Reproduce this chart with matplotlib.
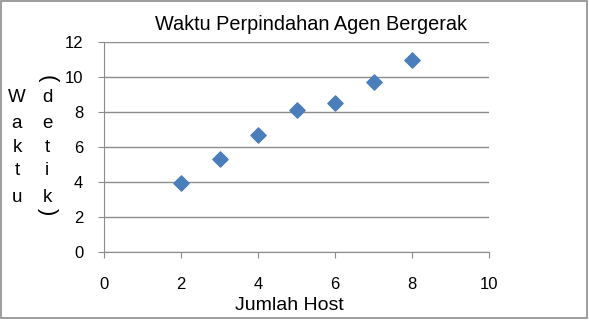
import matplotlib
matplotlib.use("Agg")
import matplotlib.pyplot as plt
from matplotlib.patches import Rectangle

plt.rcParams['font.family'] = ['Liberation Sans', 'DejaVu Sans']

jumlah_host = [2, 3, 4, 5, 6, 7, 8]
waktu_detik = [3.95, 5.3, 6.7, 8.1, 8.5, 9.7, 10.95]
x_ticks = [0, 2, 4, 6, 8, 10]
y_ticks = [0, 2, 4, 6, 8, 10, 12]

W, H = 589, 322
fig = plt.figure(figsize=(W / 100, H / 100), dpi=100)
ax = fig.add_axes([104 / W, 1 - 252 / H, (489 - 104) / W, (252 - 42) / H])

ax.scatter(jumlah_host, waktu_detik, marker='D', s=60, color='#4a7ebb',
           edgecolors='#4a7ebb', zorder=3)
ax.set_xlim(0, 10)
ax.set_ylim(0, 12)
ax.set_xticks(x_ticks)
ax.set_yticks(y_ticks)
ax.yaxis.grid(True, color='#8c8c8c', linewidth=1.0)
ax.set_axisbelow(True)
for s in ['top', 'right']:
    ax.spines[s].set_visible(False)
for s in ['left', 'bottom']:
    ax.spines[s].set_color('#8c8c8c')
ax.tick_params(axis='both', colors='#8c8c8c', labelcolor='black', labelsize=12,
               length=4, direction='out')
ax.tick_params(axis='x', pad=14)
ax.tick_params(axis='y', pad=11)

fig.text(311 / W, 1 - 25 / H, 'Waktu Perpindahan Agen Bergerak', fontsize=14.3,
         ha='center', va='center')
fig.text(289 / W, 1 - 306 / H, 'Jumlah Host', fontsize=14,
         ha='center', va='center')

# Stacked vertical y-label
col1 = ['W', 'a', 'k', 't', 'u']
col2 = ['d', 'e', 't', 'i', 'k']
ys = [98, 123, 147, 171, 197]
for ch, y in zip(col1, ys):
    fig.text(17 / W, 1 - y / H, ch, ha='center', va='center', fontsize=13.5)
for ch, y in zip(col2, ys):
    fig.text(47 / W, 1 - y / H, ch, ha='center', va='center', fontsize=13.5)
fig.text(47 / W, 1 - 79 / H, '(', rotation=270, ha='center', va='center',
         fontsize=16, fontweight='light')
fig.text(47 / W, 1 - 212 / H, ')', rotation=270, ha='center', va='center',
         fontsize=16, fontweight='light')

fig.patches.append(Rectangle((0.002, 0.012), 0.994, 0.985, transform=fig.transFigure,
                             fill=False, edgecolor='#8c8c8c', linewidth=1.2))

fig.savefig('out.png', dpi=100)
